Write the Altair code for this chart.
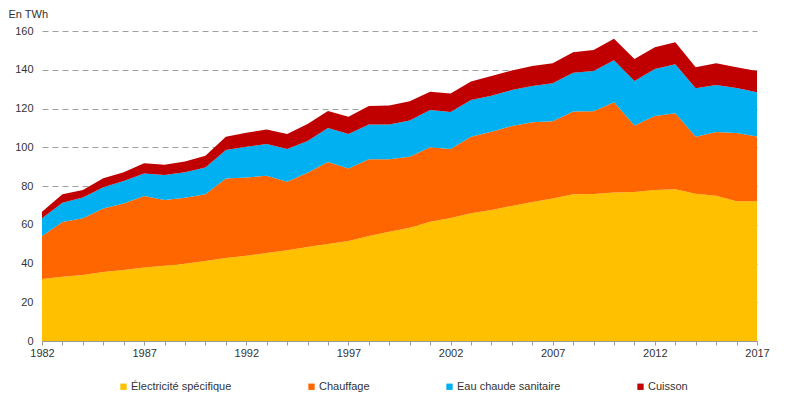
import altair as alt
import pandas as pd

years = list(range(1982, 2018))

electricite = [32.0, 33.2, 34.1, 35.6, 36.6, 38.0, 38.9, 39.9, 41.3, 42.8, 44.0, 45.4,
               46.8, 48.5, 50.1, 51.6, 54.2, 56.4, 58.5, 61.6, 63.5, 65.9, 67.6, 69.7,
               71.7, 73.6, 75.7, 75.9, 76.6, 76.9, 77.9, 78.3, 76.0, 75.0, 72.1, 72.1]
chauffage = [22.2, 28.2, 29.2, 32.8, 34.4, 36.8, 33.9, 34.1, 34.4, 41.1, 40.4, 39.9,
             35.4, 38.4, 42.3, 37.4, 39.6, 37.4, 36.6, 38.4, 35.6, 39.5, 40.4, 41.3,
             41.2, 39.8, 42.7, 42.7, 46.6, 34.3, 38.2, 39.2, 29.4, 32.9, 35.3, 33.5]
eau_chaude = [9.1, 10.0, 10.8, 10.9, 11.6, 11.7, 12.9, 13.1, 13.9, 14.7, 15.9, 16.4,
              16.9, 16.3, 17.5, 17.8, 18.0, 18.0, 18.7, 19.2, 19.1, 19.0, 18.6, 18.5,
              18.7, 19.6, 20.1, 20.8, 21.7, 23.0, 24.3, 25.3, 25.0, 24.2, 23.2, 22.8]
cuisson = [3.4, 4.3, 3.8, 4.7, 4.5, 5.2, 5.3, 5.6, 6.0, 6.8, 7.2, 7.5,
           7.7, 8.8, 8.8, 9.0, 9.5, 9.8, 9.9, 9.5, 9.6, 9.5, 10.2, 10.1,
           10.3, 10.3, 10.5, 10.8, 11.1, 11.3, 11.2, 11.4, 10.9, 11.2, 10.7, 11.0]

series_names = ["Électricité spécifique", "Chauffage", "Eau chaude sanitaire", "Cuisson"]
series_values = [electricite, chauffage, eau_chaude, cuisson]
colors = ["#FFC000", "#FF6600", "#00B0F0", "#C00000"]

rows = []
for i, (name, vals) in enumerate(zip(series_names, series_values)):
    for y, v in zip(years, vals):
        rows.append({"annee": y, "usage": name, "valeur": v, "ordre": i})
df = pd.DataFrame(rows)

font = "Liberation Sans"

chart = alt.Chart(df).mark_area(interpolate="linear", opacity=1).encode(
    x=alt.X("annee:Q",
            scale=alt.Scale(domain=[1982, 2017], nice=False, zero=False),
            axis=alt.Axis(values=years, format="d", title=None, grid=False,
                          labelExpr="(datum.value - 1982) % 5 == 0 ? datum.label : ''",
                          tickSize=4, tickColor="#999999", domainColor="#999999",
                          labelFontSize=11, labelColor="#333333", labelPadding=2,
                          labelFont=font, labelFlush=False)),
    y=alt.Y("valeur:Q", stack="zero",
            scale=alt.Scale(domain=[0, 160], nice=False),
            axis=alt.Axis(values=[0, 20, 40, 60, 80, 100, 120, 140, 160],
                          title="En TWh", titleAngle=0, titleAlign="left",
                          titleBaseline="middle", titleX=-34, titleY=-17,
                          titleFontSize=11, titleFontWeight="normal", titleColor="#333333",
                          titleFont=font,
                          ticks=False, domain=False, grid=True, gridColor="#a0a0a0",
                          gridDash=[6, 4], labelFontSize=11, labelColor="#333333",
                          labelPadding=9, labelFont=font)),
    color=alt.Color("usage:N",
                    scale=alt.Scale(domain=series_names, range=colors),
                    legend=alt.Legend(title=None, orient="none", direction="horizontal",
                                      columns=4, legendX=76, legendY=350,
                                      symbolType="square", symbolSize=40,
                                      symbolStrokeWidth=0, labelFontSize=11,
                                      labelFont=font, labelColor="#333333",
                                      labelOffset=2, columnPadding=74)),
    order=alt.Order("ordre:Q", sort="ascending"),
).properties(
    width=715,
    height=310,
    autosize=alt.AutoSizeParams(type="none"),
    padding={"left": 34, "top": 23, "right": 35, "bottom": 53},
).configure_view(stroke=None)

chart.save("out.html", embed_options={"renderer": "svg", "actions": False})
